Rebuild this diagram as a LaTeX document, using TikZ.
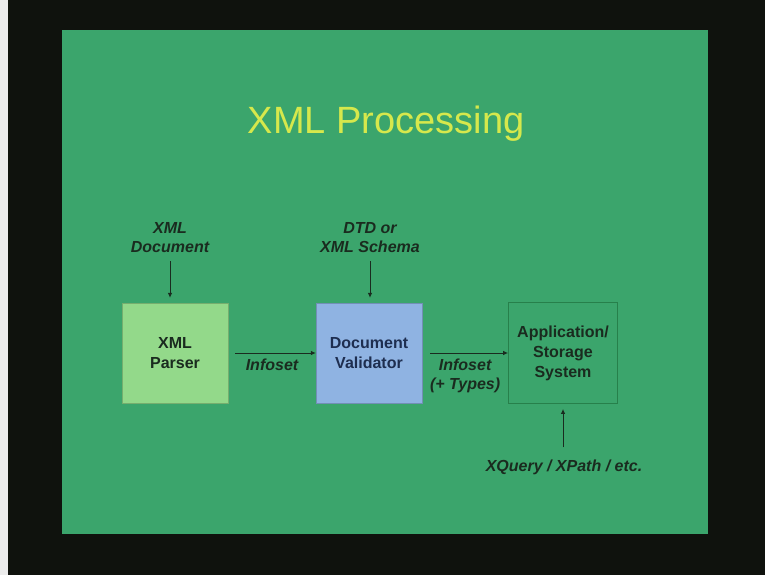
\documentclass[tikz,border=0pt]{standalone}
\usepackage{fontspec}
\setmainfont{Liberation Sans}
\usepackage{xcolor}
\definecolor{slideblack}{HTML}{0F120D}
\definecolor{slidegreen}{HTML}{3BA56C}
\definecolor{titleyellow}{HTML}{D6E84C}
\definecolor{parsergreen}{HTML}{93D98A}
\definecolor{validblue}{HTML}{8FB3E2}
\definecolor{appedge}{HTML}{27804B}
\definecolor{inkdark}{HTML}{1A2B1F}
\definecolor{inknavy}{HTML}{1E2E50}
\usepackage{tikz}
\usetikzlibrary{arrows.meta, positioning}

\begin{document}
\begin{tikzpicture}[x=1pt, y=-1pt,
  stage/.style={minimum width=106pt, minimum height=100pt, inner sep=0pt, align=center,
                font=\fontsize{16}{20}\selectfont\bfseries, text=inkdark},
  note/.style={align=center, inner sep=0pt, font=\fontsize{16}{19}\selectfont\bfseries\itshape, text=inkdark},
  flow/.style={draw=inkdark, line width=0.8pt, -{Latex[length=5pt, width=4.5pt]}}]
  % frame and slide
  \useasboundingbox (0,0) rectangle (765,575);
  \fill[slideblack] (0,0) rectangle (765,575);
  \fill[white!85!gray] (0,0) rectangle (8,575);
  \fill[slidegreen] (62,30) rectangle (708,534);
  \node[font=\fontsize{38}{42}\selectfont, text=titleyellow, anchor=base] (title) at (386,134) {XML Processing};
  % stages
  \node[stage, fill=parsergreen, draw=parsergreen!80!black, line width=0.4pt] (parser) at (175,353) {XML\\Parser};
  \node[stage, fill=validblue, draw=validblue!80!black, line width=0.4pt, text=inknavy] (validator) at (369,353) {Document\\Validator};
  \node[stage, draw=appedge, line width=0.9pt, minimum width=109pt, minimum height=101pt] (app) at (563,353) {Application/\\Storage\\System};
  % inputs
  \node[note] (doc) at (170,238) {XML\\Document};
  \node[note] (schema) at (370,238) {DTD or\\XML Schema};
  \node[note] (query) at (564,467) {XQuery / XPath / etc.};
  \draw[flow, shorten <=8pt, shorten >=5pt] (doc.south) -- (parser.north -| doc.south);
  \draw[flow, shorten <=8pt, shorten >=5pt] (schema.south) -- (validator.north -| schema.south);
  \draw[flow, shorten <=12pt, shorten >=5pt] (query.north -| app.south) -- (app.south);
  % data flow
  \draw[flow, shorten <=7pt] (parser.east) -- node[note, below=6pt] (infoset) {Infoset} (validator.west);
  \draw[flow, shorten <=8pt] (validator.east) -- node[note, below=6pt] (typed) {Infoset\\(+ Types)} (app.west);
\end{tikzpicture}
\end{document}
